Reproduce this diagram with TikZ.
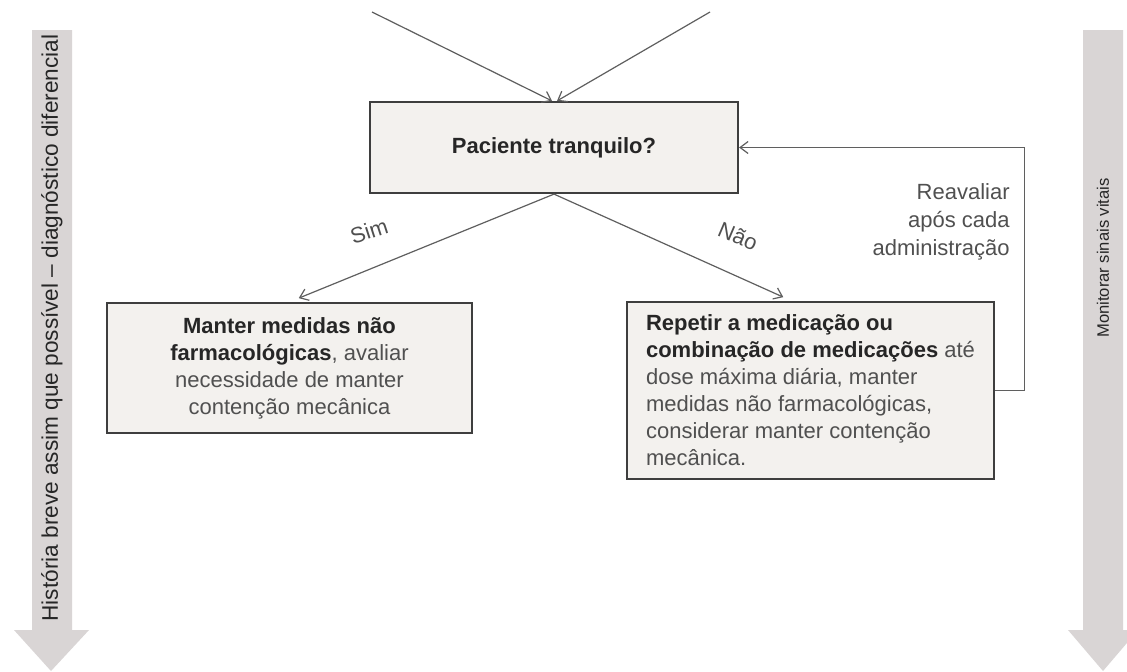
\documentclass[tikz,border=0pt]{standalone}
\usepackage{fontspec}
\setmainfont{Liberation Sans}
\usepackage{tikz}
\usetikzlibrary{arrows.meta, calc, positioning}

\definecolor{boxfill}{RGB}{243,241,238}
\definecolor{boxline}{RGB}{62,62,62}
\definecolor{linegray}{RGB}{95,95,95}
\definecolor{bandfill}{RGB}{217,213,213}
\definecolor{boldtext}{RGB}{38,38,38}
\definecolor{plaintext}{RGB}{80,80,80}

\begin{document}
\begin{tikzpicture}[
                x=0.5pt, y=-0.5pt,
                box/.style={rectangle, draw=boxline, line width=1.1pt, fill=boxfill,
                            inner sep=6.5pt, text=plaintext,
                            font=\fontsize{11}{13.5}\selectfont},
                link/.style={draw=linegray, line width=0.6pt,
                             -{Straight Barb[length=4pt, width=6pt]}},
                band/.style={fill=bandfill, draw=none},
                bandtext/.style={rotate=90, text=boldtext, inner sep=0pt},
                label/.style={text=plaintext, font=\fontsize{11}{14}\selectfont, inner sep=1pt}
            ]

            \clip (0,0) rectangle (1127,671);
            \fill[white] (0,0) rectangle (1127,671);

            % Side bands
            \path[band] (32,30) -- (72,30) -- (72,630) -- (89,630) -- (51,671)
                -- (14,630) -- (32,630) -- cycle;
            \path[band] (1083,30) -- (1123,30) -- (1123,630) -- (1138,630)
                -- (1103,671) -- (1068,630) -- (1083,630) -- cycle;

            \node[bandtext, font=\fontsize{11.3}{13}\selectfont] (history-label) at (52,328)
                {História breve assim que possível -- diagnóstico diferencial};
            \node[bandtext, font=\fontsize{8.3}{10}\selectfont] (vitals-label) at (1103,258)
                {Monitorar sinais vitais};

            % Decision node
            \node[box, minimum width=184pt, minimum height=45.5pt,
                  text=boldtext, font=\fontsize{11}{13.5}\selectfont\bfseries]
                (calm) at (554,147.5) {Paciente tranquilo?};

            % Outcome nodes
            \node[box, minimum width=182.5pt, minimum height=65pt, align=center]
                (keep) at (289.5,368)
                {\textcolor{boldtext}{\bfseries Manter medidas não}\\
                 \textcolor{boldtext}{\bfseries farmacológicas}, avaliar\\
                 necessidade de manter\\
                 contenção mecânica};

            \node[box, minimum width=183.5pt, minimum height=87.5pt, align=left]
                (repeat) at (810.5,390.5)
                {\textcolor{boldtext}{\bfseries Repetir a medicação ou}\\
                 \textcolor{boldtext}{\bfseries combinação de medicações} até\\
                 dose máxima diária, manter\\
                 medidas não farmacológicas,\\
                 considerar manter contenção\\
                 mecânica.};

            % Incoming lines
            \coordinate (in-1) at (372,12);
            \coordinate (in-2) at (710,12);
            \draw[link] (in-1) -- ([xshift=-1pt]calm.north);
            \draw[link] (in-2) -- ([xshift=1.5pt]calm.north);

            % Branches
            \draw[link, shorten >=5pt] (calm.south) -- (keep.north);
            \draw[link, shorten >=4.5pt] (calm.south) -- ([xshift=-9.5pt]repeat.north);

            \node[label, rotate=18] (yes-label) at (369,231) {Sim};
            \node[label, rotate=-23] (no-label) at (738,236) {Não};

            % Feedback loop
            \draw[link] (repeat.east) -- ++(29,0) |- (calm.east);
            \node[label, anchor=east, align=right] (reassess-label) at (1012,222)
                {Reavaliar\\após cada\\administração};

        \end{tikzpicture}
\end{document}
